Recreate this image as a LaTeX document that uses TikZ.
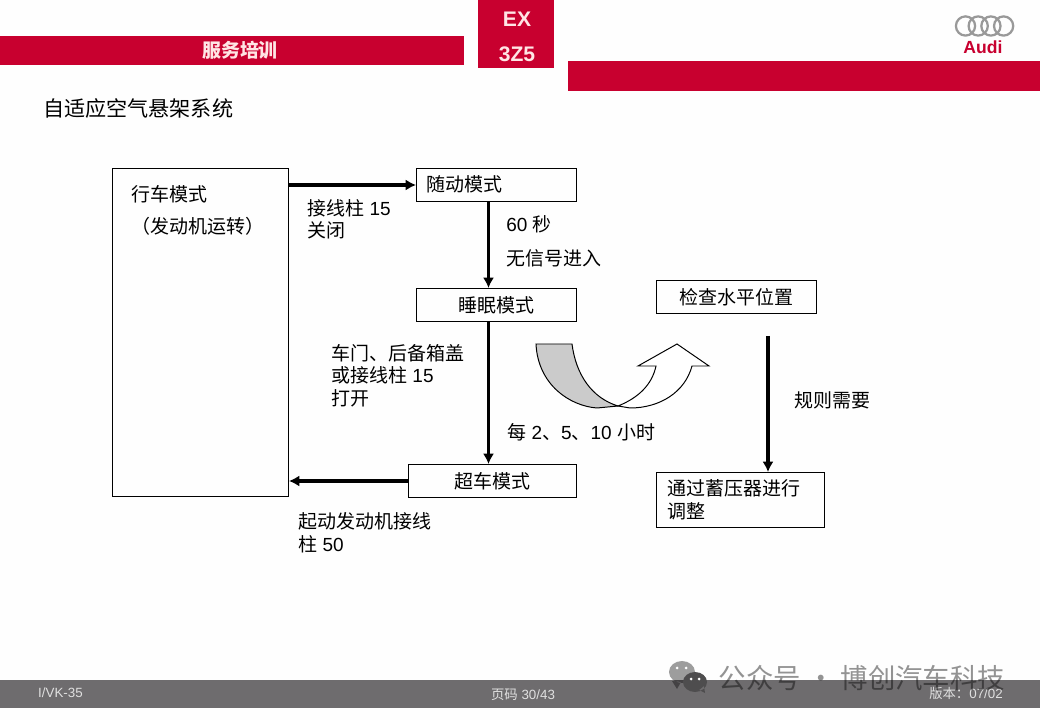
\documentclass[tikz,border=0pt]{standalone}
\usepackage{fontspec}
\usepackage{xcolor}
\setmainfont{Liberation Sans}
\newfontfamily\cjk{Noto Sans CJK SC}
\usetikzlibrary{arrows.meta, calc, positioning}

\definecolor{audired}{HTML}{C8002F}
\definecolor{footgray}{HTML}{6E6C6E}
\definecolor{arrowgray}{HTML}{CBCBCB}
\definecolor{pagewhite}{HTML}{FEFEFE}
\definecolor{markdark}{HTML}{4E4D4E}

\newcommand{\pxw}{0.025cm}

\tikzset{
    modebox/.style 2 args={draw, line width=0.7pt, anchor=north west, inner sep=0pt, minimum width=#1*\pxw, minimum height=#2*\pxw},
    lbl/.style={anchor=west, inner sep=0pt, align=left, font=\fontsize{13.5}{16}\selectfont},
    heavy/.style={line width=2.5pt, -{Latex[length=2.6mm, width=2.8mm]}},
    band/.style={fill=audired, draw=none},
    foot/.style={inner sep=0pt, text=white!88!black, font=\fontsize{9.5}{11}\selectfont}
}

\begin{document}
\begin{tikzpicture}[x=0.025cm, y=-0.025cm]
    \useasboundingbox (0, 0) rectangle (1040, 720);
    \fill[pagewhite] (0, 0) rectangle (1040, 720);

    % header
    \fill[band] (0, 36) rectangle (464, 65);
    \fill[band] (478, 0) rectangle (554, 68);
    \fill[band] (568, 61) rectangle (1040, 91);
    \node[inner sep=0pt, text=white!90!red, font=\fontsize{13.5}{16}\selectfont\bfseries\cjk] (course) at (240, 50) {服务培训};
    \node[inner sep=0pt, text=white!90!red, font=\fontsize{15}{16}\selectfont\bfseries] (exname) at (517, 19) {EX};
    \node[inner sep=0pt, text=white!90!red, font=\fontsize{15}{16}\selectfont\bfseries] (exnum) at (517, 54) {3Z5};
    \foreach \x in {965.5, 978.2, 990.9, 1003.6} {
        \draw[line width=1.6pt, black!40] (\x, 26) circle (9.6);
    }
    \node[inner sep=0pt, text=audired, font=\fontsize{12.5}{14}\selectfont\bfseries] (brand) at (983, 47) {Audi};
    \node[lbl, font=\fontsize{15}{18}\selectfont\cjk] (title) at (43, 108) {自适应空气悬架系统};

    % modes
    \node[modebox={176}{328}] (drive) at (112, 168) {};
    \node[modebox={160}{33}] (follow) at (416, 168) {};
    \node[modebox={160}{33}] (sleep) at (416, 288) {};
    \node[modebox={168}{33}] (wake) at (408, 464) {};
    \node[modebox={160}{33}] (check) at (656, 280) {};
    \node[modebox={168}{55}] (adjust) at (656, 472) {};

    \node[lbl, font=\fontsize{13.5}{16}\selectfont\cjk] (drivea) at (131, 194) {行车模式};
    \node[lbl, font=\fontsize{13.5}{16}\selectfont\cjk] (driveb) at (131, 226) {（发动机运转）};
    \node[lbl, font=\fontsize{13.5}{16}\selectfont\cjk] (followtxt) at (426, 184) {随动模式};
    \node[inner sep=0pt, font=\fontsize{13.5}{16}\selectfont\cjk] (sleeptxt) at (sleep.center) {睡眠模式};
    \node[inner sep=0pt, font=\fontsize{13.5}{16}\selectfont\cjk] (waketxt) at (wake.center) {超车模式};
    \node[inner sep=0pt, font=\fontsize{13.5}{16}\selectfont\cjk] (checktxt) at (check.center) {检查水平位置};
    \node[lbl, font=\fontsize{13.5}{16}\selectfont\cjk] (adjusttxt) at (667, 500) {通过蓄压器进行\\调整};

    % connectors
    \coordinate (checkout) at (768, 336);
    \draw[heavy] (drive.east |- follow.west) -- (follow.west);
    \draw[heavy] ($(follow.south)+(-8, 0)$) -- ($(sleep.north)+(-8, 0)$);
    \draw[heavy] ($(sleep.south)+(-8, 0)$) -- ($(wake.north)+(-4, 0)$);
    \draw[heavy] (wake.west) -- (drive.east |- wake.west);
    \draw[heavy] (checkout) -- (checkout |- adjust.north);

    % labels
    \node[lbl] (kl15off) at (307, 219.5) {{\cjk 接线柱} 15\\{\cjk 关闭}};
    \node[lbl] (wait) at (506, 224) {60 {\cjk 秒}};
    \node[lbl, font=\fontsize{13.5}{16}\selectfont\cjk] (nosignal) at (506, 258) {无信号进入};
    \node[lbl] (doors) at (331, 375.5) {{\cjk 车门、后备箱盖}\\{\cjk 或接线柱} 15\\{\cjk 打开}};
    \node[lbl] (hours) at (507, 432) {{\cjk 每} 2{\cjk 、}5{\cjk 、}10 {\cjk 小时}};
    \node[lbl, font=\fontsize{13.5}{16}\selectfont\cjk] (rule) at (794, 400) {规则需要};
    \node[lbl] (kl50) at (298, 532.5) {{\cjk 起动发动机接线}\\{\cjk 柱} 50};

    % curved arrow
    \draw[line width=0.7pt, fill=arrowgray]
    (536, 344) .. controls (538, 385) and (570, 406) .. (597, 408) -- (618, 406)
    .. controls (592, 398) and (576, 375) .. (572, 344) -- cycle;
    \draw[line width=0.7pt, fill=white]
    (618, 406) .. controls (638, 398) and (652, 385) .. (656, 366) -- (638, 366) -- (677, 344)
    -- (709, 366) -- (692, 366) .. controls (685, 392) and (660, 408) .. (630, 408) -- cycle;

    % footer
    \fill[footgray] (0, 680) rectangle (1040, 708);
    \node[foot] (pagecode) at (60.5, 693) {I/VK-35};
    \node[foot] (pagenum) at (523, 695) {{\cjk 页码} 30/43};
    \node[foot] (version) at (966, 693) {{\cjk 版本：}07/02};

    % watermark
    \fill[black, opacity=0.38] (682, 672) ellipse (13 and 11) (672, 681) -- (677, 689) -- (681, 682) -- cycle;
    \fill[markdark] (695, 682) ellipse (12 and 10) (699, 690) -- (705, 693) -- (704, 686) -- cycle;
    \foreach \x/\y in {677/668, 686/668, 691/679, 699/679} {
        \fill[white] (\x, \y) circle (1.5);
    }
    \node[inner sep=0pt, text=black, opacity=0.42, font=\fontsize{19.5}{22}\selectfont\cjk] (mark) at (862, 678) {公众号 · 博创汽车科技};
\end{tikzpicture}
\end{document}
